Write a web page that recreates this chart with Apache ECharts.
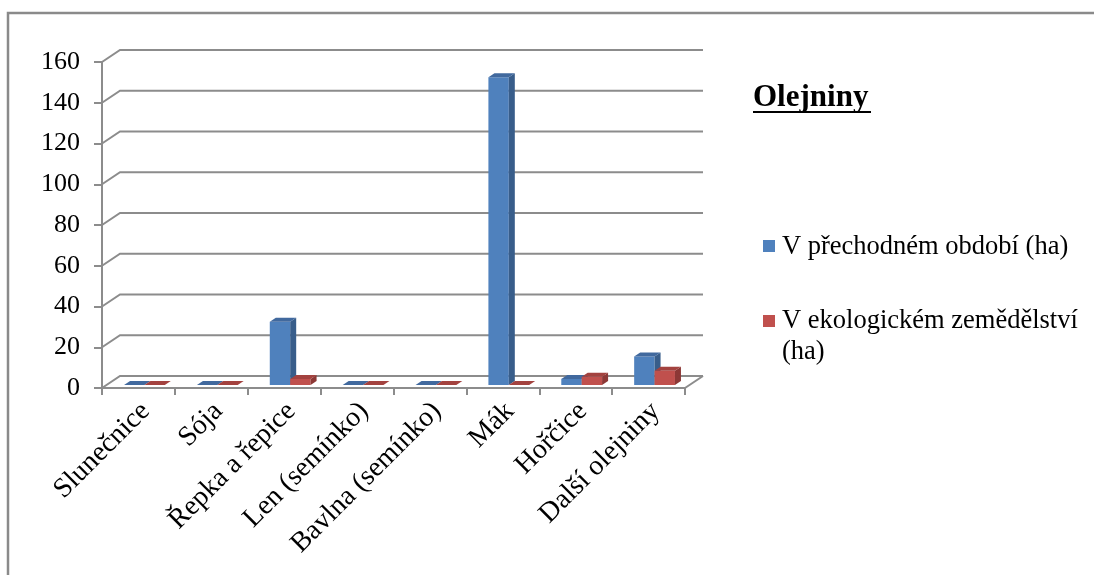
<!DOCTYPE html>
<html>
<head>
<meta charset="utf-8">
<title>Olejniny</title>
<script src="https://cdn.jsdelivr.net/npm/echarts@6/dist/echarts.min.js"></script>
<style>
  html, body { margin: 0; padding: 0; background: #ffffff; }
  #chart { width: 1094px; height: 575px; }
</style>
</head>
<body>
<div id="chart"></div>
<script>
// ---- data ----
const categories = ['Slunečnice', 'Sója', 'Řepka a řepice', 'Len (semínko)', 'Bavlna (semínko)', 'Mák', 'Hořčice', 'Další olejniny'];
const transitionHa = [0, 0, 31, 0, 0, 151, 3, 14];
const organicHa = [0, 0, 3, 0, 0, 0, 4, 7];
const seriesNames = ['V přechodném období (ha)', 'V ekologickém zemědělství (ha)'];
const valueTicks = [0, 20, 40, 60, 80, 100, 120, 140, 160];
const chartTitle = 'Olejniny';

// ---- styling ----
const FONT = "'Liberation Serif', 'Times New Roman', serif";
const GRID_COLOR = '#8c8c8c';
const WALL = { dx: 18, dy: -12 };       // depth of the floor / back wall
const BAR_DEPTH = { dx: 6, dy: -4 };    // depth of each column
const BAR_SHIFT = { dx: 6, dy: -3 };    // columns stand slightly behind the front plane
const BAR_FRAC = 0.28;                  // column width as a share of the category band

const palette = [
  { front: '#4F81BD', side: '#385D8A', top: '#41699E' },
  { front: '#C0504D', side: '#8C3836', top: '#A3423F' }
];

// 3D column: front face, right side face, top face
function columnRenderer(seriesIdx) {
  return function (params, api) {
    const i = api.value(0);
    const v = api.value(1);
    const base = api.coord([i, 0]);
    const head = api.coord([i, v]);
    const band = api.size([1, 0])[0];
    const w = band * BAR_FRAC;
    const cx = base[0] + BAR_SHIFT.dx;
    const xL = seriesIdx === 0 ? cx - w : cx;
    const xR = xL + w;
    const yB = base[1] + BAR_SHIFT.dy;
    const yT = head[1] + BAR_SHIFT.dy;
    const c = palette[seriesIdx];
    const ddx = BAR_DEPTH.dx, ddy = BAR_DEPTH.dy;
    const children = [];
    if (yB - yT > 0.5) {
      children.push({ type: 'rect', shape: { x: xL, y: yT, width: w, height: yB - yT }, style: { fill: c.front } });
      children.push({ type: 'polygon', shape: { points: [[xR, yT], [xR + ddx, yT + ddy], [xR + ddx, yB + ddy], [xR, yB]] }, style: { fill: c.side } });
    }
    children.push({ type: 'polygon', shape: { points: [[xL, yT], [xL + ddx, yT + ddy], [xR + ddx, yT + ddy], [xR, yT]] }, style: { fill: c.top } });
    return { type: 'group', children: children };
  };
}

// back wall gridlines with the short diagonal joining them to the front axis
function wallRenderer(params, api) {
  const v = api.value(1);
  const cs = params.coordSys;
  const y = api.coord([0, v])[1];
  const x0 = cs.x, x1 = cs.x + cs.width;
  const children = [{
    type: 'polyline',
    shape: { points: [[x0, y], [x0 + WALL.dx, y + WALL.dy], [x1 + WALL.dx, y + WALL.dy]] },
    style: { stroke: GRID_COLOR, lineWidth: 2, fill: null }
  }];
  if (v === 0) {
    children.push({
      type: 'line',
      shape: { x1: x1, y1: y, x2: x1 + WALL.dx, y2: y + WALL.dy },
      style: { stroke: GRID_COLOR, lineWidth: 2 }
    });
  }
  return { type: 'group', children: children };
}

const chart = echarts.init(document.getElementById('chart'), null, { renderer: 'canvas' });

const legendText = [seriesNames[0], seriesNames[1].replace(' (ha)', '\n(ha)')];

chart.setOption({
  animation: false,
  backgroundColor: '#ffffff',
  textStyle: { fontFamily: FONT },
  title: {
    text: chartTitle,
    left: 753,
    top: 82,
    padding: 0,
    textStyle: { fontFamily: FONT, fontSize: 31, fontWeight: 'bold', color: '#000000' }
  },
  grid: { left: 102, right: 409, top: 62, bottom: 187 },
  xAxis: {
    type: 'category',
    data: categories,
    boundaryGap: true,
    axisLine: { show: true, lineStyle: { color: GRID_COLOR, width: 2 } },
    axisTick: { show: true, length: 7, lineStyle: { color: GRID_COLOR, width: 2 } },
    axisLabel: {
      interval: 0, rotate: 45, margin: 12,
      verticalAlign: 'top', lineHeight: 20,
      color: '#000000', fontFamily: FONT, fontSize: 28
    },
    splitLine: { show: false }
  },
  yAxis: {
    type: 'value',
    min: 0,
    max: 160,
    interval: 20,
    axisLine: { show: true, lineStyle: { color: GRID_COLOR, width: 2 } },
    axisTick: { show: true, length: 8, lineStyle: { color: GRID_COLOR, width: 2 } },
    axisLabel: { margin: 22, color: '#000000', fontFamily: FONT, fontSize: 26 },
    splitLine: { show: false }
  },
  series: [
    {
      type: 'custom',
      name: 'wall',
      silent: true,
      z: 1,
      renderItem: wallRenderer,
      data: valueTicks.map(function (v) { return [0, v]; })
    },
    {
      type: 'custom',
      name: seriesNames[0],
      z: 3,
      itemStyle: { color: palette[0].front },
      renderItem: columnRenderer(0),
      data: transitionHa.map(function (v, i) { return [i, v]; })
    },
    {
      type: 'custom',
      name: seriesNames[1],
      z: 4,
      itemStyle: { color: palette[1].front },
      renderItem: columnRenderer(1),
      data: organicHa.map(function (v, i) { return [i, v]; })
    }
  ],
  graphic: [
    // chart frame (only the top and left edges fall inside the page)
    { type: 'polyline', shape: { points: [[8, 580], [8, 13], [1094, 13]] }, style: { stroke: '#8a8a8a', lineWidth: 2.5, fill: null } },
    // title underline
    { type: 'line', shape: { x1: 753, y1: 112, x2: 871, y2: 112 }, style: { stroke: '#000000', lineWidth: 2 } },
    // legend
    { type: 'rect', shape: { x: 763, y: 240, width: 12, height: 12 }, style: { fill: palette[0].front } },
    { type: 'text', x: 782, y: 247, style: { text: legendText[0], font: '26.5px ' + FONT, fill: '#000000', verticalAlign: 'middle' } },
    { type: 'rect', shape: { x: 763, y: 315, width: 12, height: 12 }, style: { fill: palette[1].front } },
    { type: 'text', x: 782, y: 306, style: { text: legendText[1], font: '26.5px ' + FONT, lineHeight: 31, fill: '#000000', verticalAlign: 'top' } }
  ]
});
</script>
</body>
</html>
